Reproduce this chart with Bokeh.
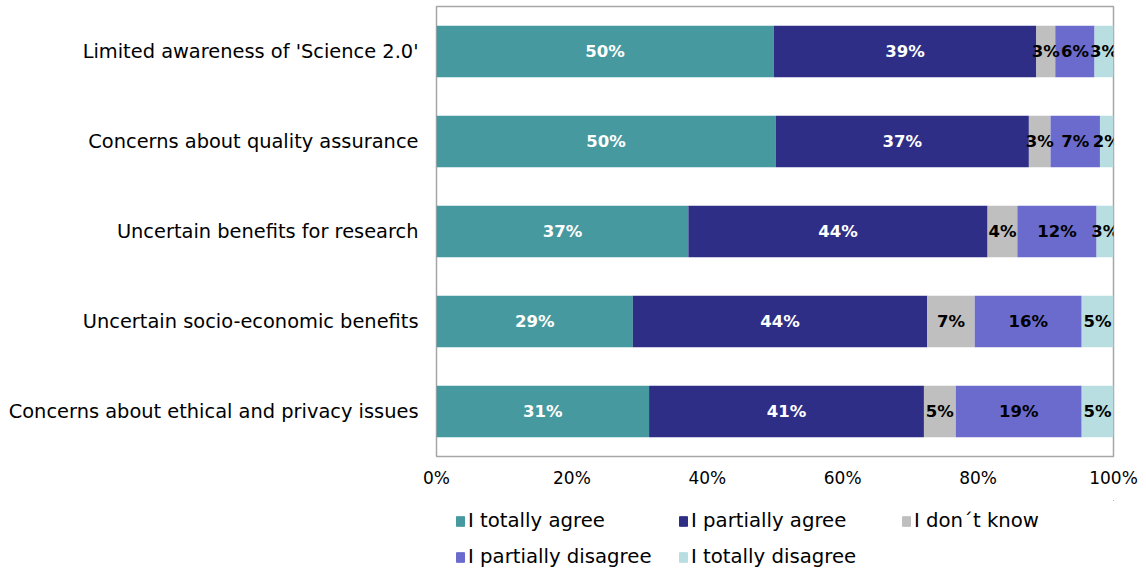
from bokeh.plotting import figure
from bokeh.layouts import column
from bokeh.models import ColumnDataSource, Legend, LegendItem, FactorRange
from bokeh.core.properties import value
from bokeh.embed import file_html
from bokeh.resources import INLINE

categories = [
    "Limited awareness of 'Science 2.0'",
    "Concerns about quality assurance",
    "Uncertain benefits for research",
    "Uncertain socio-economic benefits",
    "Concerns about ethical and privacy issues",
]
series_names = ["I totally agree", "I partially agree", "I don\u00b4t know",
                "I partially disagree", "I totally disagree"]
totally_agree = [49.8, 50.1, 37.2, 29.0, 31.4]
partially_agree = [38.8, 37.4, 44.2, 43.5, 40.6]
dont_know = [2.8, 3.2, 4.4, 7.0, 4.7]
partially_disagree = [5.8, 7.3, 11.7, 15.8, 18.6]
totally_disagree = [2.8, 2.0, 2.6, 4.7, 4.7]
tick_values = [0, 20, 40, 60, 80, 100]

colors = ["#46999F", "#2E2E87", "#BFBFBF", "#6B6BCD", "#B8DEE1"]
label_colors = ["white", "white", "black", "black", "black"]
series = [totally_agree, partially_agree, dont_know, partially_disagree, totally_disagree]
keys = ["s0", "s1", "s2", "s3", "s4"]

FONT = "DejaVu Sans"

data = {"cat": categories}
for k, s in zip(keys, series):
    data[k] = s
src = ColumnDataSource(data)

p = figure(
    y_range=FactorRange(*reversed(categories)),
    x_range=(0, 100),
    width=1146, height=500,
    min_border_left=436, min_border_right=33, min_border_top=6, min_border_bottom=44,
    output_backend="svg", toolbar_location=None,
)

renderers = p.hbar_stack(keys, y="cat", height=0.57, color=colors, source=src, line_width=0)

for i, (k, s) in enumerate(zip(keys, series)):
    starts = [sum(series[j][r] for j in range(i)) for r in range(len(categories))]
    xs = [st + v / 2 for st, v in zip(starts, s)]
    txt = [f"{round(v)}%" for v in s]
    p.text(x=xs, y=categories, text=txt, text_align="center", text_baseline="middle",
           text_font=value(FONT), text_font_size="16.5px", text_font_style="bold",
           text_color=label_colors[i])

p.xaxis.ticker = tick_values
p.xaxis.major_label_overrides = {v: f"{v}%" for v in tick_values}
for ax in (p.xaxis[0], p.yaxis[0]):
    ax.axis_line_color = None
    ax.major_tick_line_color = None
    ax.minor_tick_line_color = None
    ax.major_tick_out = 0
    ax.major_tick_in = 0
    ax.major_label_text_font = FONT
    ax.major_label_text_color = "#000000"
p.xaxis.major_label_text_font_size = "17px"
p.xaxis.major_label_standoff = 11
p.yaxis.major_label_text_font_size = "19.4px"
p.yaxis.major_label_standoff = 18
p.xgrid.grid_line_color = None
p.ygrid.grid_line_color = None
p.outline_line_color = "#A6A6A6"
p.outline_line_width = 1.5
p.y_range.range_padding = 0

# legend panel
lg = figure(width=1146, height=69, x_range=(0, 1), y_range=(0, 1),
            min_border_left=436, min_border_right=33, min_border_top=0, min_border_bottom=0,
            output_backend="svg", toolbar_location=None)
lg.axis.visible = False
lg.grid.visible = False
lg.outline_line_color = None
# swatch renderers kept outside the visible range of the legend panel
dummies = [lg.hbar(y=[5], right=[5], left=[4], height=0.5, color=c) for c in colors]
legend = Legend(
    items=[LegendItem(label=n, renderers=[r]) for n, r in zip(series_names, dummies)],
    ncols=3, orientation="horizontal", location=(19, 1),
    glyph_width=10, glyph_height=12, label_standoff=3, label_width=197, label_height=22,
    spacing=13, padding=0, margin=0,
    label_text_font=FONT, label_text_font_size="19.7px", label_text_color="#000000",
    border_line_color=None, background_fill_alpha=0,
)
lg.add_layout(legend, "center")

layout = column(p, lg, spacing=0)
open("out.html", "w").write(file_html(layout, INLINE))
